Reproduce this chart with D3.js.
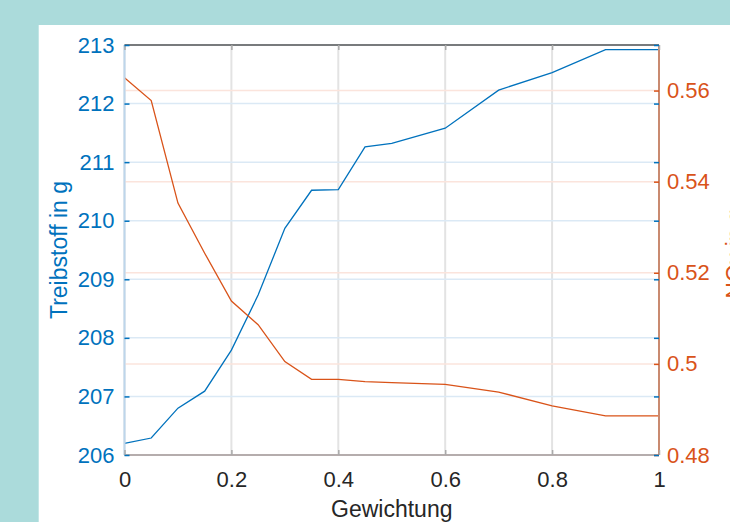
<!DOCTYPE html>
<html>
<head>
<meta charset="utf-8">
<script src="https://cdn.jsdelivr.net/npm/d3@7"></script>
<style>
  body { margin: 0; background: #abdbdb; }
  svg { display: block; }
  text { font-family: "Liberation Sans", Arial, sans-serif; }
</style>
</head>
<body>
<svg id="chart" width="730" height="522"></svg>
<script>
// values
const weights = [0, 0.05, 0.1, 0.15, 0.2, 0.25, 0.3, 0.35, 0.4, 0.45, 0.5, 0.6, 0.7, 0.8, 0.9, 1];
const fuel = [206.20, 206.29, 206.80, 207.09, 207.79, 208.73, 209.87, 210.52, 210.53, 211.26, 211.32, 211.58, 212.23, 212.53, 212.92, 212.92];
const nox = [0.5628, 0.5578, 0.5353, 0.5243, 0.5138, 0.5086, 0.5005, 0.4966, 0.4966, 0.4961, 0.4959, 0.4955, 0.4938, 0.4908, 0.4886, 0.4886];

const xTicks = [0, 0.2, 0.4, 0.6, 0.8, 1];
const leftTicks = [206, 207, 208, 209, 210, 211, 212, 213];
const rightTicks = [0.48, 0.5, 0.52, 0.54, 0.56];

const blue = "#0072BD";
const orange = "#D95319";

const svg = d3.select("#chart");

// white panel over teal background
svg.append("rect")
    .attr("x", 38.7)
    .attr("y", 25)
    .attr("width", 730 - 38.7)
    .attr("height", 522 - 25)
    .attr("fill", "#fff");

const plotLeft = 124.5, plotRight = 659, plotTop = 45, plotBottom = 455;

const x = d3.scaleLinear().domain([0, 1]).range([plotLeft, plotRight]);
const yL = d3.scaleLinear().domain([206, 213]).range([plotBottom, plotTop]);
const yR = d3.scaleLinear().domain([0.48, 0.57]).range([plotBottom, plotTop]);

// grid lines
const grid = svg.append("g");
grid.selectAll(".vg")
    .data(xTicks)
    .enter()
    .append("line")
    .attr("x1", (d) => x(d))
    .attr("x2", (d) => x(d))
    .attr("y1", plotTop)
    .attr("y2", plotBottom)
    .attr("stroke", "#e3e3e3")
    .attr("stroke-width", 2);

grid.selectAll(".hgl")
    .data(leftTicks)
    .enter()
    .append("line")
    .attr("x1", plotLeft)
    .attr("x2", plotRight)
    .attr("y1", (d) => yL(d))
    .attr("y2", (d) => yL(d))
    .attr("stroke", "#dbe9f5")
    .attr("stroke-width", 1.5);

grid.selectAll(".hgr")
    .data(rightTicks)
    .enter()
    .append("line")
    .attr("x1", plotLeft)
    .attr("x2", plotRight)
    .attr("y1", (d) => yR(d))
    .attr("y2", (d) => yR(d))
    .attr("stroke", "#fbe4dc")
    .attr("stroke-width", 1.5);

// series
const fuelLine = d3.line()
    .x((d, i) => x(weights[i]))
    .y((d) => yL(d));
const noxLine = d3.line()
    .x((d, i) => x(weights[i]))
    .y((d) => yR(d));

svg.append("path")
    .datum(fuel)
    .attr("d", fuelLine)
    .attr("fill", "none")
    .attr("stroke", blue)
    .attr("stroke-width", 1.3);

svg.append("path")
    .datum(nox)
    .attr("d", noxLine)
    .attr("fill", "none")
    .attr("stroke", orange)
    .attr("stroke-width", 1.3);

// box lines
svg.append("line")
    .attr("x1", plotLeft).attr("x2", plotRight).attr("y1", plotTop).attr("y2", plotTop)
    .attr("stroke", "#555").attr("stroke-width", 1.5);
svg.append("line")
    .attr("x1", plotLeft).attr("x2", plotRight).attr("y1", plotBottom).attr("y2", plotBottom)
    .attr("stroke", "#b5adad").attr("stroke-width", 2);
svg.append("line")
    .attr("x1", plotLeft).attr("x2", plotLeft).attr("y1", plotTop).attr("y2", plotBottom)
    .attr("stroke", "#bdd6eb").attr("stroke-width", 2);
svg.append("line")
    .attr("x1", plotRight).attr("x2", plotRight).attr("y1", plotTop).attr("y2", plotBottom)
    .attr("stroke", "#c98a70").attr("stroke-width", 2);

function styleAxis(g, color) {
    g.select(".domain").remove();
    g.selectAll(".tick line").attr("stroke", color).attr("stroke-width", 1.5);
    g.selectAll(".tick text")
        .attr("fill", color)
        .style("font-size", "22px")
        .style("font-family", '"Liberation Sans", Arial, sans-serif');
}

// bottom axis
svg.append("g")
    .attr("transform", `translate(0,${plotBottom})`)
    .call(d3.axisBottom(x).tickValues(xTicks).tickSize(-5).tickPadding(16).tickFormat(d3.format("")))
    .call((g) => styleAxis(g, "#262626"))
    .call((g) => g.selectAll(".tick line").attr("stroke", "#aaa"));

// top ticks
svg.append("g")
    .attr("transform", `translate(0,${plotTop})`)
    .call(d3.axisTop(x).tickValues(xTicks).tickSize(-5).tickFormat(""))
    .call((g) => styleAxis(g, "#aaa"));

// left axis
svg.append("g")
    .attr("transform", `translate(${plotLeft},0)`)
    .call(d3.axisLeft(yL).tickValues(leftTicks).tickSize(-5).tickPadding(10).tickFormat(d3.format("d")))
    .call((g) => styleAxis(g, blue));

// right axis
svg.append("g")
    .attr("transform", `translate(${plotRight},0)`)
    .call(d3.axisRight(yR).tickValues(rightTicks).tickSize(-5).tickPadding(8).tickFormat(d3.format("")))
    .call((g) => styleAxis(g, orange));

// left values mirrored on the right side
svg.append("g")
    .attr("transform", `translate(${plotRight},0)`)
    .call(d3.axisRight(yL).tickValues(leftTicks).tickSize(-5).tickFormat(""))
    .call((g) => styleAxis(g, blue));

// axis titles
svg.append("text")
    .attr("x", x(0.5))
    .attr("y", 517)
    .attr("text-anchor", "middle")
    .attr("fill", "#262626")
    .style("font-size", "23px")
    .text("Gewichtung");

svg.append("text")
    .attr("transform", "translate(67,250) rotate(-90)")
    .attr("text-anchor", "middle")
    .attr("fill", blue)
    .style("font-size", "23px")
    .text("Treibstoff in g");

// right title is clipped by the window edge, as in the reference
svg.append("text")
    .attr("transform", "translate(743,254) rotate(-90)")
    .attr("text-anchor", "middle")
    .attr("fill", orange)
    .style("font-size", "23px")
    .text("NOx in g");
</script>
</body>
</html>
